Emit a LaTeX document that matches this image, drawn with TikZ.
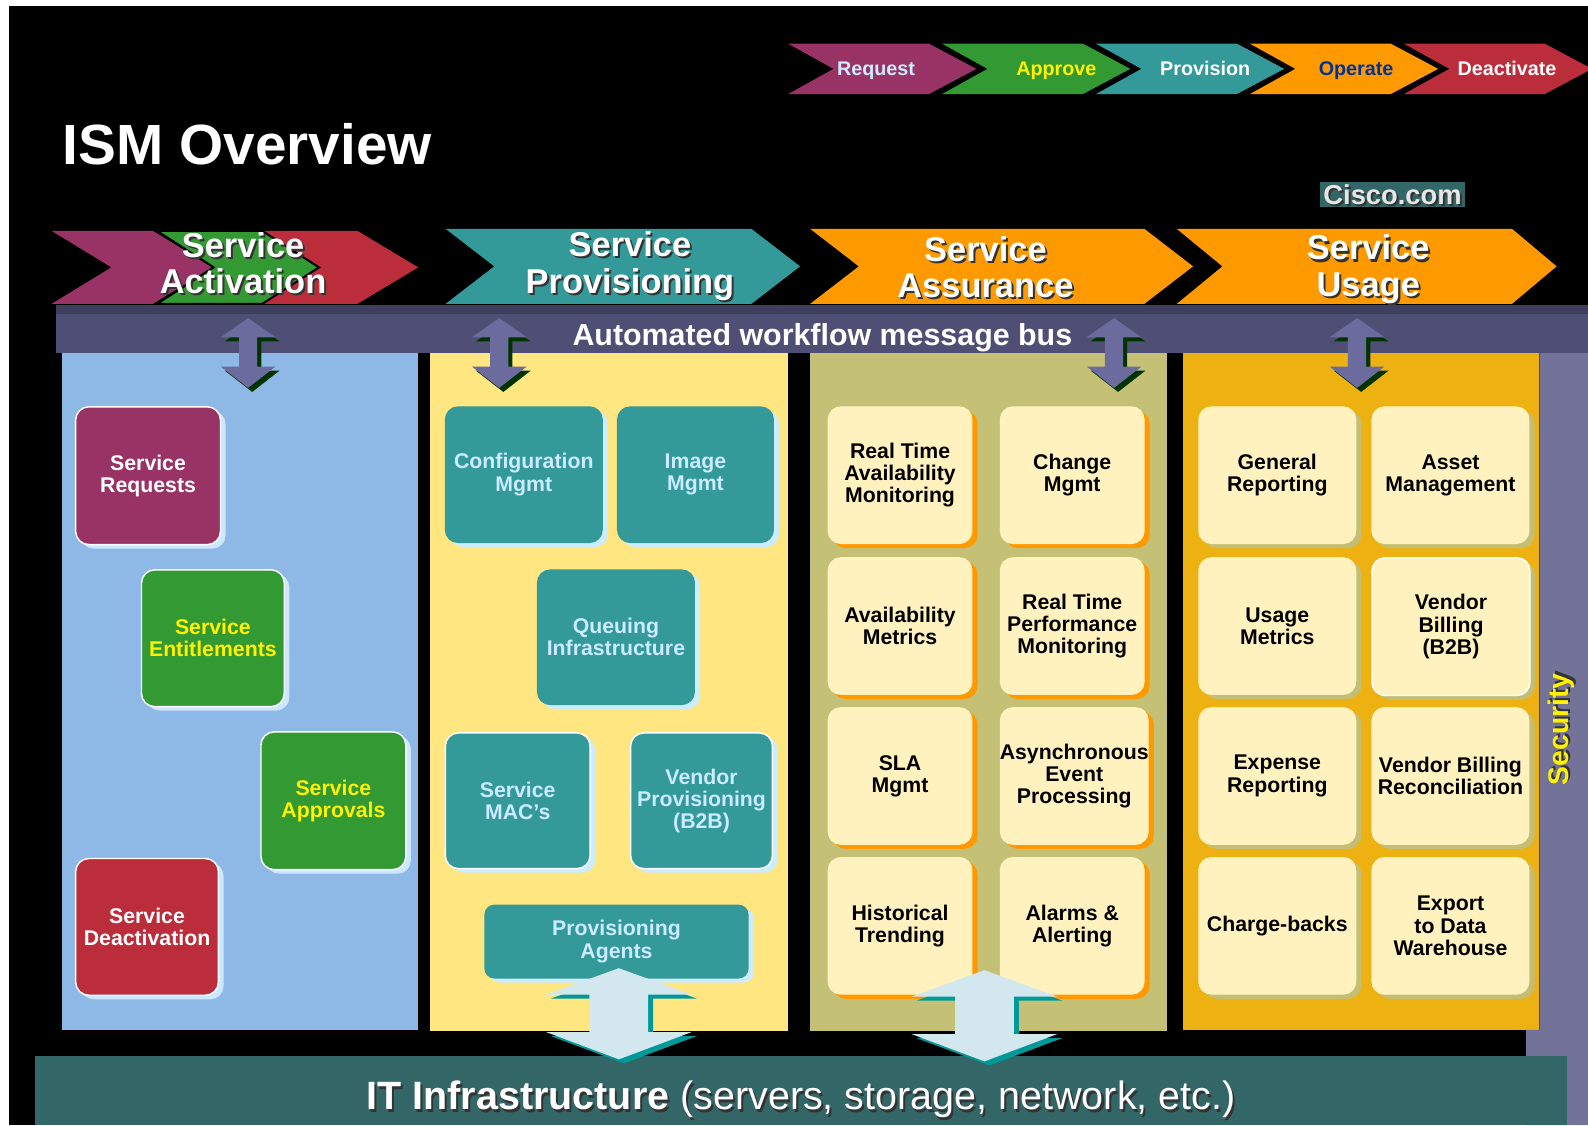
\documentclass[tikz,border=0pt]{standalone}
\usepackage{fontspec}
\setmainfont{Liberation Sans}
\usetikzlibrary{shadows,calc}
\definecolor{cPurp}{HTML}{993366}
\definecolor{cGreen}{HTML}{339933}
\definecolor{cTeal}{HTML}{339999}
\definecolor{cOrange}{HTML}{FF9900}
\definecolor{cRed}{HTML}{BB2D3B}
\definecolor{cLtBlue}{HTML}{CCECFF}
\definecolor{cOpBlue}{HTML}{003399}
\definecolor{cBusTop}{HTML}{3E3E5E}
\definecolor{cBus}{HTML}{4F4F75}
\definecolor{cBusArrow}{HTML}{6B6B9E}
\definecolor{cBusShadow}{HTML}{003300}
\definecolor{cPanelBlue}{HTML}{8EB9E6}
\definecolor{cPanelYellow}{HTML}{FFE680}
\definecolor{cPanelOlive}{HTML}{C4C177}
\definecolor{cPanelGold}{HTML}{EDB111}
\definecolor{cSecurity}{HTML}{737399}
\definecolor{cInfra}{HTML}{336666}
\definecolor{cCream}{HTML}{FFF2BF}
\definecolor{cItArrow}{HTML}{D2E8EE}
\definecolor{cItShadow}{HTML}{009999}
\definecolor{cShBlue}{HTML}{CCE8FF}
\definecolor{cShOlive}{HTML}{C4BE74}
\definecolor{cCiscoTxt}{HTML}{E6E6E6}

\tikzset{
  mbox/.style={rectangle, rounded corners=13pt, inner sep=0pt, anchor=north west,
     align=center, font=\fontsize{21}{22}\selectfont\bfseries},
  shad/.style={general shadow={fill=#1, shadow xshift=5pt, shadow yshift=-4pt}},
  wedge/.style={draw=white, line width=1.4pt},
  actbox/.style={mbox, wedge, shad=cShBlue},
  provbox/.style={mbox, fill=cTeal, text=cLtBlue, shad=cLtBlue},
  assbox/.style={mbox, fill=cCream, text=black, shad=cOrange, minimum width=143pt, minimum height=136pt},
  usebox/.style={mbox, fill=cCream, text=black, shad=cShOlive, minimum width=156pt, minimum height=136pt},
  toptxt/.style={anchor=base, font=\fontsize{19.5}{20}\selectfont\bfseries},
  bigtxt/.style={align=center, font=\fontsize{34}{36}\selectfont\bfseries, text=white},
}
\newcommand\shnode[4]{%
  \node[#3, text=black!80, xshift=2pt, yshift=-2pt] (#1sh) at (#2) {#4};
  \node[#3] (#1) at (#2) {#4};}
\newcommand\topchev[2]{%
  \fill[#2] (#1,43) -- ({#1+139},43) -- ({#1+186},68) -- ({#1+139},93) -- (#1,93) -- ({#1+45},68) -- cycle;}
\newcommand\busarr[1]{%
  \begin{scope}[shift={(#1,0)}]
  \fill[cBusShadow, shift={(4,4)}] (0,314) -- (27,333) -- (9,333) -- (9,362) -- (27,362) -- (0,383) -- (-27,362) -- (-9,362) -- (-9,333) -- (-27,333) -- cycle;
  \fill[cBusArrow] (0,314) -- (27,333) -- (9,333) -- (9,362) -- (27,362) -- (0,383) -- (-27,362) -- (-9,362) -- (-9,333) -- (-27,333) -- cycle;
  \end{scope}}
\newcommand\itarr[2]{%
  \begin{scope}[shift={(#1,#2)}]
  \fill[cItShadow, shift={(5,4)}] (0,956) -- (72,982) -- (29,982) -- (29,1019) -- (72,1019) -- (0,1046) -- (-72,1019) -- (-29,1019) -- (-29,982) -- (-72,982) -- cycle;
  \fill[cItArrow] (0,956) -- (72,982) -- (29,982) -- (29,1019) -- (72,1019) -- (0,1046) -- (-72,1019) -- (-29,1019) -- (-29,982) -- (-72,982) -- cycle;
  \end{scope}}

\begin{document}
\begin{tikzpicture}[x=1pt,y=-1pt]
\useasboundingbox (0,0) rectangle (1568,1111);
\fill[white] (0,0) rectangle (1568,1111);
\fill[black] (9,6) rectangle (1568,1111);

% top process chevrons
\topchev{778}{cPurp}
\topchev{930}{cGreen}
\topchev{1082}{cTeal}
\topchev{1234}{cOrange}
\topchev{1386}{cRed}
\node[toptxt, text=cLtBlue] (treq) at (865,75) {Request};
\node[toptxt, text=yellow] (tapp) at (1043,75) {Approve};
\node[toptxt, text=white] (tpro) at (1190,75) {Provision};
\node[toptxt, text=cOpBlue] (tope) at (1339,75) {Operate};
\node[toptxt, text=white] (tdea) at (1488,75) {Deactivate};

% title
\node[anchor=base west, text=white, inner sep=0pt, font=\fontsize{56}{58}\selectfont\bfseries] (title) at (62,162) {ISM Overview};

% Cisco.com
\node[fill=cInfra, minimum width=144pt, minimum height=25pt, inner sep=0pt] (ciscobg) at (1375,192) {};
\shnode{cisco}{1375,192}{font=\fontsize{27}{28}\selectfont\bfseries, text=cCiscoTxt, inner sep=0pt}{Cisco.com}

% big chevrons
\fill[cPurp] (51,228) -- (151,228) -- (210,264) -- (151,300) -- (51,300) -- (110,264) -- cycle;
\fill[cRed] (257,228) -- (353,228) -- (413,264) -- (353,300) -- (257,300) -- (316,264) -- cycle;
\filldraw[fill=cGreen, draw=black, line width=2pt, line join=miter] (155,228) -- (259,228) -- (315,264) -- (259,300) -- (155,300) -- (211,264) -- cycle;
\fill[cTeal] (440,226) -- (742,226) -- (790,263) -- (742,300) -- (440,300) -- (488,263) -- cycle;
\fill[cOrange] (800,226) -- (1130,226) -- (1178,263) -- (1130,300) -- (800,300) -- (848,263) -- cycle;
\fill[cOrange] (1162,226) -- (1493,226) -- (1537,263) -- (1493,300) -- (1162,300) -- (1207,263) -- cycle;
\shnode{hact}{240,260}{bigtxt}{Service\\Activation}
\shnode{hprov}{622,263}{bigtxt}{Service\\Provisioning}
\shnode{hass}{973,264}{bigtxt}{Service\\Assurance}
\shnode{huse}{1351,266}{bigtxt}{Service\\Usage}

% panels
\fill[cPanelBlue] (61,345) rectangle (413,1017);
\fill[cPanelYellow] (425,345) rectangle (778,1018);
\fill[cPanelOlive] (800,345) rectangle (1152,1018);
\fill[cPanelGold] (1168,345) rectangle (1520,1017);
\fill[cSecurity] (1520,345) -- (1568,345) -- (1568,1111) -- (1507,1111) -- (1507,1017) -- (1520,1017) -- cycle;

% bus
\fill[cBusTop] (55,301) rectangle (1568,310);
\fill[cBus] (55,310) rectangle (1568,349);
\node[anchor=base, text=white, font=\fontsize{30}{32}\selectfont\bfseries] (bus) at (812,341) {Automated workflow message bus};
\busarr{245}
\busarr{493}
\busarr{1100}
\busarr{1340}

% security
\shnode{sec}{1541,720}{rotate=90, text=yellow, font=\fontsize{28}{30}\selectfont\bfseries}{Security}

% activation boxes
\node[actbox, fill=cPurp, text=white, minimum width=143pt, minimum height=136pt] (sreq) at (74,401) {Service\\Requests};
\node[actbox, fill=cGreen, text=yellow, minimum width=141pt, minimum height=135pt] (sent) at (139,562) {Service\\Entitlements};
\node[actbox, fill=cGreen, text=yellow, minimum width=143pt, minimum height=136pt] (sapp) at (257,722) {Service\\Approvals};
\node[actbox, fill=cRed, text=white, minimum width=141pt, minimum height=135pt] (sdea) at (74,847) {Service\\Deactivation};

% provisioning boxes
\node[provbox, minimum width=156pt, minimum height=135pt] (cfg) at (439,401) {Configuration\\Mgmt};
\node[provbox, minimum width=155pt, minimum height=135pt] (img) at (609,401) {Image\\Mgmt};
\node[provbox, minimum width=156pt, minimum height=134pt] (que) at (530,562) {Queuing\\Infrastructure};
\node[provbox, wedge, minimum width=143pt, minimum height=134pt] (mac) at (439,723) {Service\\MAC’s};
\node[provbox, wedge, minimum width=140pt, minimum height=134pt] (vpr) at (622,723) {Vendor\\Provisioning\\(B2B)};
\node[provbox, rounded corners=10pt, minimum width=261pt, minimum height=73pt] (pag) at (478,893) {Provisioning\\Agents};

% assurance boxes
\node[assbox] (a11) at (817,401) {Real Time\\Availability\\Monitoring};
\node[assbox] (a12) at (987,401) {Change\\Mgmt};
\node[assbox] (a21) at (817,550) {Availability\\Metrics};
\node[assbox] (a22) at (987,550) {Real Time\\Performance\\Monitoring};
\node[assbox] (a31) at (817,698) {SLA\\Mgmt};
\node[assbox] (a32) at (987,698) {Asynchronous\\Event\\Processing};
\node[assbox] (a41) at (817,846) {Historical\\Trending};
\node[assbox] (a42) at (987,846) {Alarms \&\\Alerting};

% usage boxes
\node[usebox] (u11) at (1183,401) {General\\Reporting};
\node[usebox] (u12) at (1354,401) {Asset\\Management};
\node[usebox] (u21) at (1183,550) {Usage\\Metrics};
\node[usebox, wedge] (u22) at (1354,550) {Vendor\\Billing\\(B2B)};
\node[usebox] (u31) at (1183,698) {Expense\\Reporting};
\node[usebox] (u32) at (1354,698) {Vendor Billing\\Reconciliation};
\node[usebox] (u41) at (1183,846) {Charge-backs};
\node[usebox] (u42) at (1354,846) {Export\\to Data\\Warehouse};

% IT infrastructure
\fill[cInfra] (35,1043) rectangle (1547,1111);
\shnode{infra}{791,1096}{anchor=base, text=white, font=\fontsize{39}{40}\selectfont}{\textbf{IT Infrastructure} (servers, storage, network, etc.)}
\itarr{611}{0}
\itarr{972}{2}
\end{tikzpicture}
\end{document}
